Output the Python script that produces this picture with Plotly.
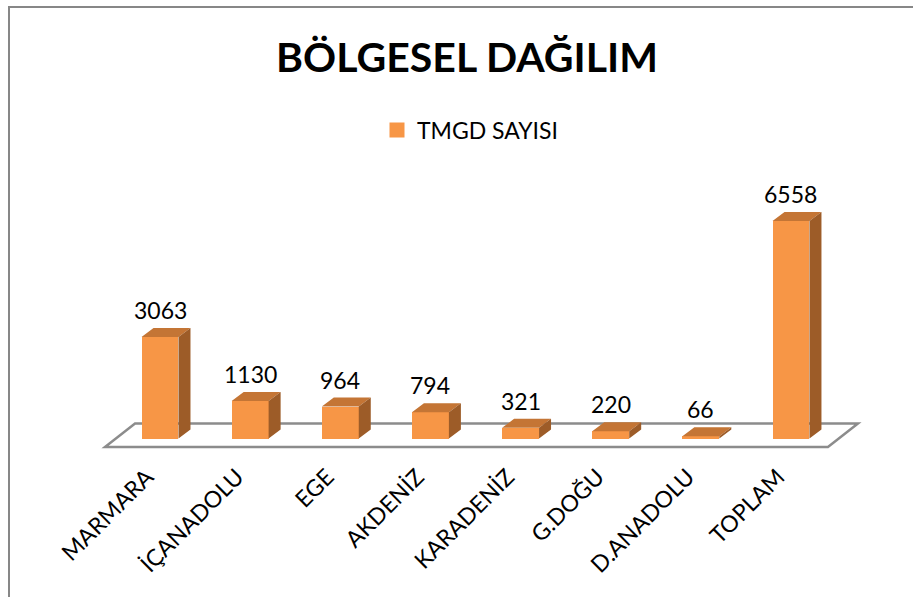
import plotly.graph_objects as go

# ---- data ----
categories = ["MARMARA", "İÇANADOLU", "EGE", "AKDENİZ", "KARADENİZ", "G.DOĞU", "D.ANADOLU", "TOPLAM"]
values = [3063, 1130, 964, 794, 321, 220, 66, 6558]
series_name = "TMGD SAYISI"
title_text = "BÖLGESEL DAĞILIM"

# ---- style / geometry constants ----
FONT = "Lato"
C_FRONT = "#F79646"
C_TOP = "#C47535"
C_SIDE = "#9D5C28"
W, H = 913, 597
ML, MR, MT, MB = 92, 50, 170, 139
PX_X = 90.14          # px per category
PX_Y = 0.03317        # px per value unit
X0_PX, Y0_PX = 160, 438.5
BAR_W = 0.41
DX = 12 / PX_X
DY = 9 / PX_Y

xmin = -(X0_PX - ML) / PX_X
xmax = (W - MR - X0_PX) / PX_X
ymin = -((H - MB) - Y0_PX) / PX_Y
ymax = (Y0_PX - MT) / PX_Y

xs = list(range(len(categories)))

fig = go.Figure()

# front faces
fig.add_trace(go.Bar(x=xs, y=values, width=BAR_W, marker=dict(color=C_FRONT, line=dict(width=0)),
                     name=series_name, showlegend=False, hoverinfo="skip"))

# top and side faces
tx, ty, sx, sy = [], [], [], []
hw = BAR_W / 2
for c, v in zip(xs, values):
    tx += [c - hw, c + hw, c + hw + DX, c - hw + DX, c - hw, None]
    ty += [v, v, v + DY, v + DY, v, None]
    sx += [c + hw, c + hw, c + hw + DX, c + hw + DX, c + hw, None]
    sy += [0, v, v + DY, DY, 0, None]
fig.add_trace(go.Scatter(x=tx, y=ty, mode="lines", fill="toself", fillcolor=C_TOP,
                         line=dict(width=0, color=C_TOP), showlegend=False, hoverinfo="skip"))
fig.add_trace(go.Scatter(x=sx, y=sy, mode="lines", fill="toself", fillcolor=C_SIDE,
                         line=dict(width=0, color=C_SIDE), showlegend=False, hoverinfo="skip"))

# legend entry (square swatch)
fig.add_trace(go.Scatter(x=[None], y=[None], mode="markers", name=series_name,
                         marker=dict(symbol="square", size=15, color=C_FRONT), showlegend=True))

# floor
n = len(categories)
fl = (-0.61, -8.5 / PX_Y)
fr = ((n - 1) + 0.41, -8.5 / PX_Y)
depth_x, depth_y = 0.333, 23.5 / PX_Y
path = (f"M {fl[0]},{fl[1]} L {fr[0]},{fr[1]} L {fr[0]+depth_x},{fr[1]+depth_y} "
        f"L {fl[0]+depth_x},{fl[1]+depth_y} Z")
shapes = [dict(type="path", path=path, xref="x", yref="y", layer="below",
               line=dict(color="#8C8C8C", width=2.5), fillcolor="white"),
          dict(type="rect", xref="paper", yref="paper",
               x0=(9 - ML) / (W - ML - MR), x1=(W + 5 - ML) / (W - ML - MR),
               y0=-(MB + 5) / (H - MT - MB), y1=(H - 7 - MB) / (H - MT - MB),
               line=dict(color="#878787", width=2), fillcolor="rgba(0,0,0,0)", layer="below")]

annotations = [dict(x=c, y=v, xref="x", yref="y", text=str(v), showarrow=False,
                    yanchor="bottom", yshift=11, font=dict(family=FONT, size=23, color="black"))
               for c, v in zip(xs, values)]

fig.update_layout(
    width=W, height=H,
    margin=dict(l=ML, r=MR, t=MT, b=MB),
    paper_bgcolor="white", plot_bgcolor="rgba(0,0,0,0)",
    title=dict(text=f"<b>{title_text}</b>", x=467 / W, xref="container", xanchor="center",
               y=1 - 58 / H, yref="container", yanchor="middle",
               font=dict(family=FONT, size=41, color="black")),
    legend=dict(orientation="h", x=470 / W, xref="container", xanchor="center",
                y=1 - 130 / H, yref="container", yanchor="middle",
                font=dict(family=FONT, size=23, color="black"), itemwidth=30),
    xaxis=dict(range=[xmin, xmax], tickmode="array", tickvals=xs, ticktext=categories,
               tickangle=-45, showgrid=False, zeroline=False, showline=False, ticks="",
               ticklabelshift=-13, ticklabelstandoff=0,
               tickfont=dict(family=FONT, size=23, color="black"), fixedrange=True),
    yaxis=dict(range=[ymin, ymax], visible=False, showgrid=False, zeroline=False, fixedrange=True),
    shapes=shapes, annotations=annotations, showlegend=True, bargap=0,
)

fig.write_html("out.html", config={"displayModeBar": False},
               post_script="document.body.style.margin='0px';")
